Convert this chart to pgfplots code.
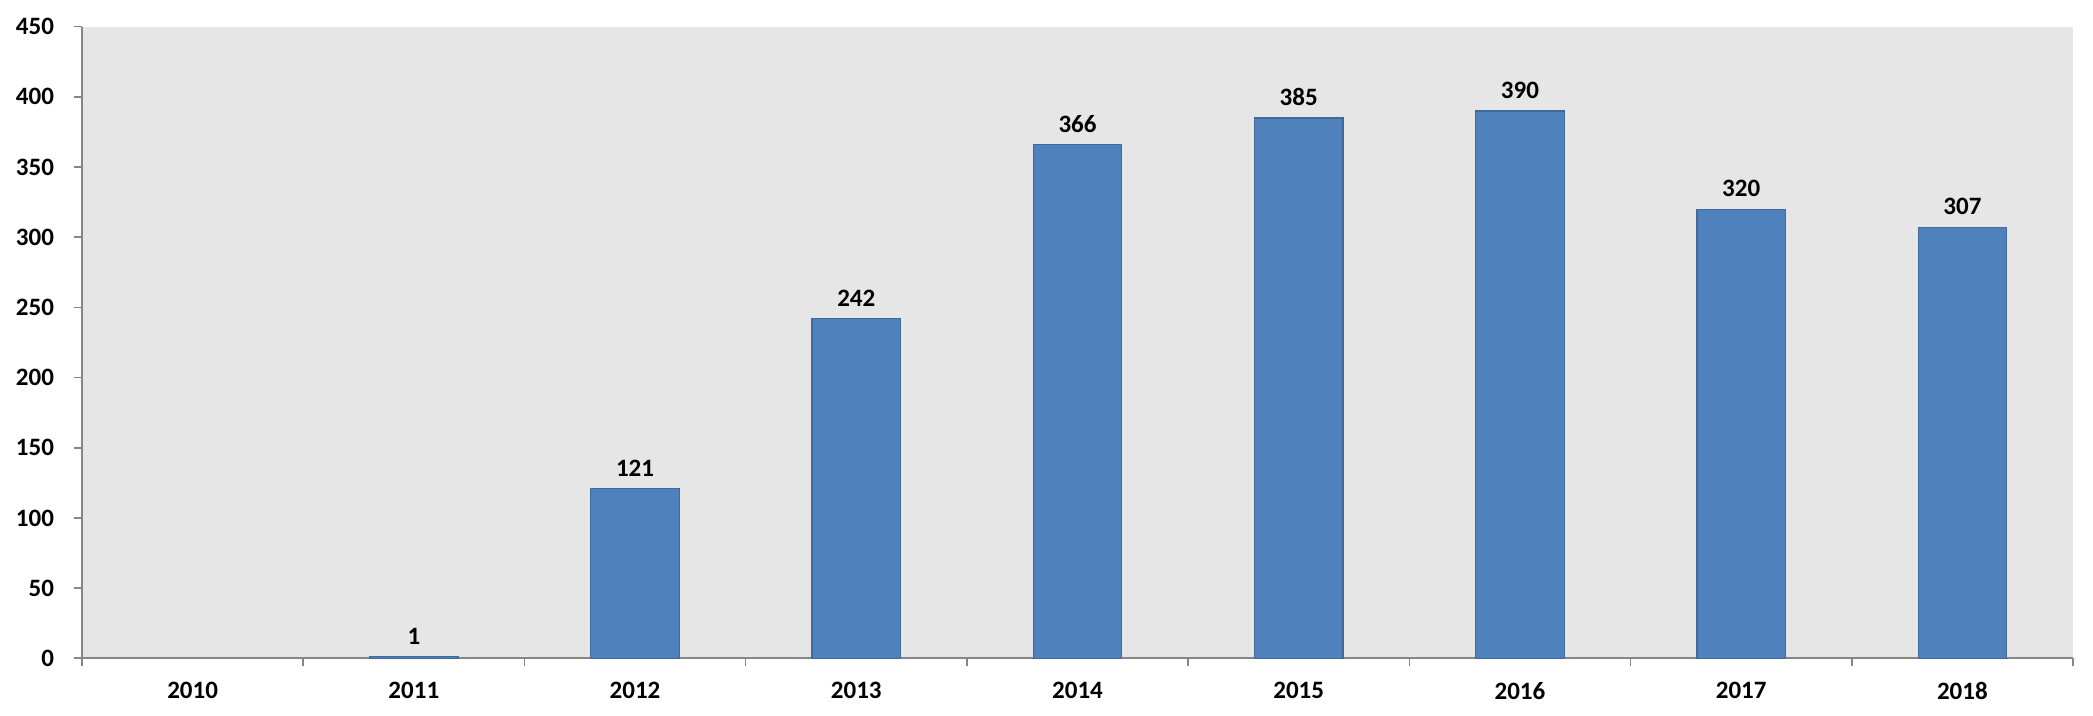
\documentclass[border=0pt]{standalone}
\usepackage{fontspec}
\setmainfont{Carlito}
\usepackage{pgfplots}
\pgfplotsset{compat=1.18}
\definecolor{bg}{HTML}{E6E6E6}
\definecolor{barfill}{HTML}{4F81BD}
\definecolor{baredge}{HTML}{3F6A9C}
\definecolor{axgray}{HTML}{868686}
\begin{document}
\begin{tikzpicture}
\path[use as bounding box] (-41pt,-28.85pt) rectangle (1005.5pt,329.15pt);
\begin{axis}[
  at={(0,0)}, anchor=south west,
  scale only axis,
  width=995.5pt, height=315.8pt,
  axis background/.style={fill=bg},
  axis lines*=left,
  axis line style={draw=axgray, line width=0.8pt},
  xmin=-0.5, xmax=8.5,
  ymin=0, ymax=450,
  ytick={0,50,...,450},
  xtick={-0.5,0.5,...,8.5},
  xticklabels={},
  extra x ticks={0,1,2,3,4,5,6,7,8},
  extra x tick labels={2010,2011,2012,2013,2014,2015,2016,2017,2018},
  extra x tick style={major tick length=0pt, tick style={draw=none}},
  tick align=outside,
  major tick length=4pt,
  tick style={draw=axgray, line width=0.8pt},
  /pgf/number format/assume math mode=true,
  ticklabel style={font=\fontsize{12.5}{14}\selectfont\bfseries},
  yticklabel style={xshift=-6.5pt},
  xticklabel style={yshift=-8.5pt},
  scaled y ticks=false,
]
\addplot[ybar, bar width=0.4, fill=barfill, draw=baredge, line width=0.6pt,
  nodes near coords,
  nodes near coords style={font=\fontsize{12.5}{14}\selectfont\bfseries, yshift=2.5pt},
] coordinates {(1,1) (2,121) (3,242) (4,366) (5,385) (6,390) (7,320) (8,307)};
\end{axis}
\end{tikzpicture}
\end{document}
